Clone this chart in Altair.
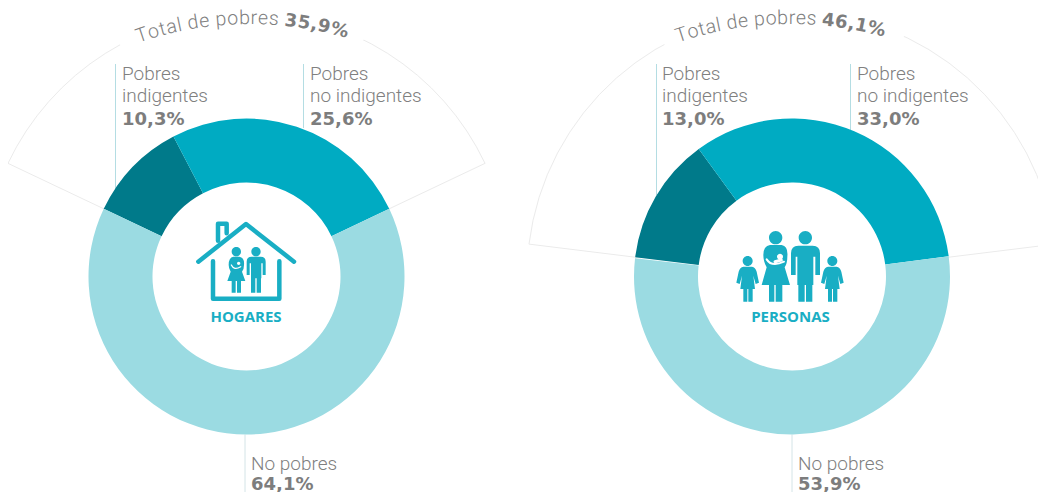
import re
import math
import altair as alt
import pandas as pd

# ---- data ----
panels = ["HOGARES", "PERSONAS"]
indigentes = [10.3, 13.0]
no_indigentes = [25.6, 33.0]
no_pobres = [64.1, 53.9]
totales = [35.9, 46.1]
total_labels = ["35,9%", "46,1%"]
indig_labels = ["10,3%", "13,0%"]
noind_labels = ["25,6%", "33,0%"]
nopob_labels = ["64,1%", "53,9%"]

# ---- layout (page px minus the 8px margin) ----
M = 8
CENTERS = [(246.5, 276.5), (792, 276.5)]
R_OUT, R_IN = 158, 94
FAN_R = [264, 265]
GAP_DEG = [(-28.6, 26.3), (-28.8, 25.0)]
TEXT_C = [(250, 364), (790, 374)]
TEXT_DEG = [(-19.2, 16.6), (-18.7, 15.6)]
TEXT_R = [340, 350]
LEAD_X = [(115.5, 303.5, 245), (656.5, 850.5, 792)]
LEAD_END = [(190, 128), (195, 130)]
TXT_X = [(122, 310, 251), (662, 857, 798)]

DARK, MID, LIGHT = "#007a8a", "#00abc2", "#9bdbe2"
ICON = "#19aec4"
GREY, GREY_B = "#808080", "#7d7d7d"
FONT = "Roboto"
BOLD = "DejaVu Sans"
TSCALE = alt.Scale(domain=[0, 100], range=[0, 2 * math.pi])


def arc_layer(cx, cy, start, end, r, r2, **kw):
    df = pd.DataFrame({"a": [start], "b": [end]})
    return alt.Chart(df).mark_arc(radius=r, radius2=r2, **kw).encode(
        theta=alt.Theta("a:Q", scale=TSCALE, stack=None),
        theta2="b:Q",
        x=alt.value(cx - M),
        y=alt.value(cy - M),
    )


def txt(s, x, base, size=19, weight=300, color=GREY, align="left", font=FONT):
    return alt.Chart(pd.DataFrame({"t": [s]})).mark_text(
        align=align, baseline="alphabetic", fontSize=size, fontWeight=weight,
        color=color, font=font,
    ).encode(text="t:N", x=alt.value(x - M), y=alt.value(base - M))


def bold(s, x, base):
    return txt(s, x, base, size=18, weight=700, color=GREY_B, font=BOLD)


def rule(x, y1, y2, color="#b4dde3"):
    return alt.Chart(pd.DataFrame({"k": [0]})).mark_rule(color=color, strokeWidth=1).encode(
        x=alt.value(x - M), y=alt.value(y1 - M), y2=alt.value(y2 - M)
    )


EM = dict(zip("Total depbrs", [.58, .56, .34, .53, .25, .25, .56, .53, .56, .56, .34, .5]))
EMB = {",": .38, "%": 1.0}


def curved(i):
    cx, cy = TEXT_C[i]
    chars = [(c, EM[c], 300) for c in "Total de pobres "]
    chars += [(c, EMB.get(c, .7) * 0.9, 700) for c in total_labels[i]]
    tot = sum(w for _, w, _ in chars)
    d0, d1 = TEXT_DEG[i]
    pos, rows = 0, []
    for c, w, fw in chars:
        deg = d0 + (pos + w / 2) / tot * (d1 - d0)
        rows.append({"c": c, "th": deg / 3.6, "ang": (deg + 360) % 360, "fw": fw})
        pos += w
    df = pd.DataFrame(rows)
    out = []
    for fw, size, col, fnt in [(300, 19.5, GREY, FONT), (700, 18, GREY_B, BOLD)]:
        out.append(alt.Chart(df[df.fw == fw]).mark_text(
            radius=TEXT_R[i], align="center", baseline="alphabetic", fontSize=size,
            fontWeight=fw, font=fnt, color=col,
        ).encode(
            text="c:N",
            theta=alt.Theta("th:Q", scale=TSCALE, stack=None),
            angle=alt.Angle("ang:Q", scale=None),
            x=alt.value(cx - M), y=alt.value(cy - M),
        ))
    return out


# ---- icons: paths drawn in 3x-zoom coordinates, normalised to the symbol box ----
def circ(x, y, r):
    k = r * 0.5523
    return (f"M{x-r},{y} C{x-r},{y-k} {x-k},{y-r} {x},{y-r} C{x+k},{y-r} {x+r},{y-k} {x+r},{y} "
            f"C{x+r},{y+k} {x+k},{y+r} {x},{y+r} C{x-k},{y+r} {x-r},{y+k} {x-r},{y} Z ")


def rect(x0, y0, x1, y1):
    return f"M{x0},{y0} L{x1},{y0} L{x1},{y1} L{x0},{y1} Z "


def norm(path, ox, oy):
    def repl(m):
        return f"{(float(m.group(1)) - ox) / 150:.4f},{(float(m.group(2)) - oy) / 150:.4f}"
    return re.sub(r"(-?[\d.]+),(-?[\d.]+)", repl, path)


def icon(path, px, py, ox, oy, filled=True, color=ICON, sw=4):
    kw = dict(fill=color, strokeWidth=0) if filled else dict(stroke=color, strokeWidth=sw, fillOpacity=0,
                                                            strokeCap="round", strokeJoin="round")
    return alt.Chart(pd.DataFrame({"k": [0]})).mark_point(
        shape=norm(path, ox, oy), size=10000, filled=filled, opacity=1, **kw
    ).encode(x=alt.value(px - M), y=alt.value(py - M))


def child_path(dx):
    return (circ(113 + dx, 153, 15) +
            f"M{100+dx},170 L{126+dx},170 Q{136+dx},172 {140+dx},185 L{147+dx},218 L{137+dx},222 L{130+dx},197 "
            f"L{135+dx},237 L{91+dx},237 L{96+dx},197 L{89+dx},222 L{79+dx},218 L{86+dx},185 Q{90+dx},172 {100+dx},170 Z " +
            rect(100 + dx, 235, 112 + dx, 275) + rect(115 + dx, 235, 128 + dx, 275))


house_px = (246, 261.7)
hx, hy = 228, 185
house_woman = (circ(199, 155, 14) +
               "M190,170 L208,170 Q224,172 222,195 Q222,208 216,215 L226,243 L172,243 L182,215 Q176,205 176,195 Q176,172 190,170 Z " +
               rect(185, 240, 197, 278) + rect(201, 240, 213, 278))
house_man = (circ(258, 155, 14) +
             "M245,170 L272,170 Q287,170 287,185 L287,225 L278,225 L278,190 L274,190 L274,235 L243,235 L243,190 L239,190 L239,225 L230,225 L230,185 Q230,170 245,170 Z " +
             rect(243, 232, 256, 278) + rect(260, 232, 273, 278))
house_layers = [
    icon("M85,185 L228,72 L372,185", *house_px, hx, hy, filled=False, sw=4.5),
    icon("M144,122 L144,71 L170,71 L170,100", *house_px, hx, hy, filled=False, sw=4.5),
    icon("M129,184 L129,296 L328,296 L328,184", *house_px, hx, hy, filled=False, sw=4.5),
    icon(house_woman, *house_px, hx, hy),
    icon(house_man, *house_px, hx, hy),
    icon(circ(206, 190, 5), *house_px, hx, hy, color="#ffffff"),
    icon("M184,195 Q192,212 212,200", *house_px, hx, hy, filled=False, color="#ffffff", sw=1.3),
]
fam_px = (790, 266.7)
fx, fy = 240, 170
fam_woman = (circ(197, 83, 20) +
             "M180,105 L215,105 Q235,108 232,140 Q232,160 224,172 L240,225 L155,225 L170,172 Q160,155 160,135 Q160,108 180,105 Z " +
             rect(177, 222, 193, 275) + rect(197, 222, 217, 275))
fam_man = (circ(286, 83, 20) +
           "M265,107 L308,107 Q330,107 330,130 L330,195 L316,195 L316,140 L310,140 L310,225 L262,225 L262,140 L257,140 L257,195 L243,195 L243,130 Q243,107 265,107 Z " +
           rect(265, 222, 284, 275) + rect(288, 222, 307, 275))
family_layers = [
    icon(child_path(0), *fam_px, fx, fy),
    icon(child_path(254), *fam_px, fx, fy),
    icon(fam_woman, *fam_px, fx, fy),
    icon(fam_man, *fam_px, fx, fy),
    icon(circ(210, 140, 9), *fam_px, fx, fy, color="#ffffff"),
    icon("M170,148 Q185,172 222,155", *fam_px, fx, fy, filled=False, color="#ffffff", sw=2),
    icon("M195,155 L214,150", *fam_px, fx, fy, filled=False, color="#ffffff", sw=3),
]

layers = []
for i, (cx, cy) in enumerate(CENTERS):
    t = totales[i]
    s0 = -t / 2
    s1 = s0 + indigentes[i]
    s2 = s1 + no_indigentes[i]
    s3 = s2 + no_pobres[i]
    layers.append(arc_layer(cx, cy, s0, -s0, FAN_R[i], R_OUT - 6, fill="#ffffff", stroke="#ebebeb", strokeWidth=1))
    g0, g1 = GAP_DEG[i]
    layers.append(arc_layer(cx, cy, g0 / 3.6, g1 / 3.6, FAN_R[i] + 8, FAN_R[i] - 8, fill="#ffffff"))
    lx = LEAD_X[i]
    tx = TXT_X[i]
    layers += [rule(lx[0], 64, LEAD_END[i][0]), rule(lx[1], 64, LEAD_END[i][1]),
               rule(lx[2], cy + R_OUT, 492, "#d4e4e7")]
    layers.append(arc_layer(cx, cy, s0, s1, R_OUT, R_IN, fill=DARK))
    layers.append(arc_layer(cx, cy, s1, s2, R_OUT, R_IN, fill=MID))
    layers.append(arc_layer(cx, cy, s2, s3, R_OUT, R_IN, fill=LIGHT))
    layers += curved(i)
    layers += [txt("Pobres", tx[0], 80), txt("indigentes", tx[0], 102),
               bold(indig_labels[i], tx[0], 125),
               txt("Pobres", tx[1], 80), txt("no indigentes", tx[1], 102),
               bold(noind_labels[i], tx[1], 125),
               txt("No pobres", tx[2], 470),
               bold(nopob_labels[i], tx[2], 490)]

layers += house_layers + family_layers
layers.append(txt(panels[0], 246, 321.5, size=15, weight=700, color=ICON, align="center", font="Open Sans"))
layers.append(txt(panels[1], 790.5, 321.5, size=15, weight=700, color=ICON, align="center", font="Open Sans"))

chart = alt.layer(*layers).properties(
    width=1030, height=484, padding=0, autosize=alt.AutoSizeParams(type="none")
).configure_view(stroke=None)

chart.save("out.html", embed_options={"renderer": "svg", "actions": False})
